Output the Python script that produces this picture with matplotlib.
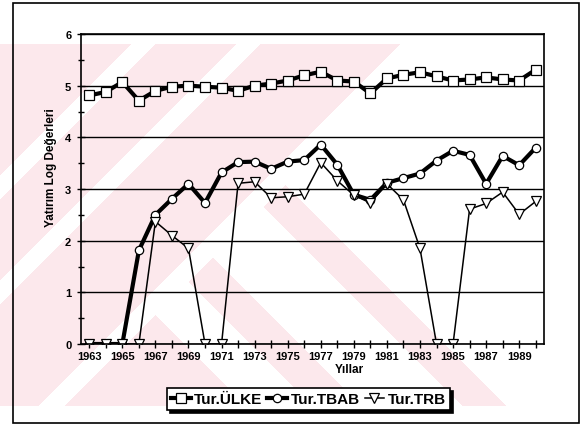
import numpy as np
import matplotlib.pyplot as plt
from matplotlib.patches import Rectangle

plt.rcParams['font.family'] = ['Liberation Sans', 'DejaVu Sans']

yillar = list(range(1963, 1991))
ulke = [4.81, 4.88, 5.07, 4.71, 4.90, 4.98, 5.00, 4.98, 4.96, 4.90,
        5.00, 5.04, 5.10, 5.20, 5.27, 5.10, 5.08, 4.85, 5.14, 5.21,
        5.26, 5.18, 5.10, 5.12, 5.16, 5.12, 5.10, 5.31]
tbab = [0, 0, 0, 1.81, 2.50, 2.81, 3.10, 2.73, 3.32, 3.52,
        3.53, 3.39, 3.53, 3.56, 3.86, 3.47, 2.89, 2.79, 3.12, 3.21,
        3.30, 3.55, 3.74, 3.66, 3.10, 3.64, 3.46, 3.80]
trb = [0, 0, 0, 0, 2.37, 2.10, 1.85, 0, 0, 3.11,
       3.14, 2.83, 2.85, 2.90, 3.51, 3.16, 2.88, 2.73, 3.10, 2.79,
       1.85, 0, 0, 2.61, 2.72, 2.94, 2.51, 2.76]
seri_adlari = ['Tur.ÜLKE', 'Tur.TBAB', 'Tur.TRB']

W, H = 583, 427
fig = plt.figure(figsize=(W / 100, H / 100), dpi=100)

# pembe filigran (arka plan), piksel koordinatlarinda
px, py = np.meshgrid(np.arange(W), np.arange(H))
s = px + py
d = px - py
pembe = (s < 445) & ~((s > 175) & (s < 200)) & ~((s > 280) & (s < 305))
pembe |= (s > 470) & ((d < -160) | ((d > -95) & (d < -45)) | ((d > 55) & (d < 100)))
pembe &= (py > 44) & (py < 407)
arka = np.ones((H, W, 3))
arka[pembe] = np.array([252, 232, 236]) / 255.0
fig.figimage(arka, xo=0, yo=0, origin='upper', zorder=-1)

ax = fig.add_axes([81 / W, 1 - 345 / H, (544 - 81) / W, (345 - 35) / H])
ax.set_facecolor('none')

ax.plot(yillar, ulke, color='black', lw=3, marker='s', ms=6.5,
        mfc='white', mec='black', mew=0.9, label=seri_adlari[0])
ax.plot(yillar, tbab, color='black', lw=3, marker='o', ms=6,
        mfc='white', mec='black', mew=0.9, label=seri_adlari[1])
ax.plot(yillar, trb, color='black', lw=1.1, marker='v', ms=7,
        mfc='white', mec='black', mew=0.9, label=seri_adlari[2])

ax.set_xlim(1962.5, 1990.5)
ax.set_ylim(0, 6)
ax.set_yticks(range(7))
ax.set_yticks(np.arange(0.5, 6, 1), minor=True)
ax.set_xticks(yillar)
ax.set_xticklabels([str(y) if y % 2 == 1 else '' for y in yillar])
ax.yaxis.grid(True, which='major', color='black', lw=1)
ax.set_axisbelow(True)

ax.tick_params(axis='x', direction='inout', length=6, width=1, pad=2,
               labelsize=8)
ax.tick_params(axis='y', which='major', direction='inout', length=6,
               width=1, pad=4, labelsize=8)
ax.tick_params(axis='y', which='minor', direction='inout', length=4, width=1)
for lab in ax.get_xticklabels() + ax.get_yticklabels():
    lab.set_fontweight('bold')
for sp in ax.spines.values():
    sp.set_linewidth(1.2)

fig.text(349 / W, 1 - 370 / H, 'Yıllar', ha='center', va='center',
         fontsize=8.5, fontweight='bold')
fig.text(51 / W, 1 - 168 / H, 'Yatırım Log Değerleri', ha='center',
         va='center', rotation=90, fontsize=8.5, fontweight='bold')

leg = fig.legend(loc='center', bbox_to_anchor=(308.5 / W, 1 - 400 / H),
                 ncol=3, fontsize=11, prop={'weight': 'bold', 'size': 11},
                 handlelength=1.3, handletextpad=0.25, columnspacing=0.3,
                 borderpad=0.25, fancybox=False, edgecolor='black',
                 framealpha=1, shadow={'color': 'black', 'alpha': 1})
leg.get_frame().set_linewidth(1.2)

# dis cerceve
fig.add_artist(Rectangle((13 / W, 1 - 424 / H), (579 - 13) / W, (424 - 4) / H,
                         transform=fig.transFigure, fill=False,
                         lw=1.2, ec='black'))

fig.savefig('out.png', dpi=100)
